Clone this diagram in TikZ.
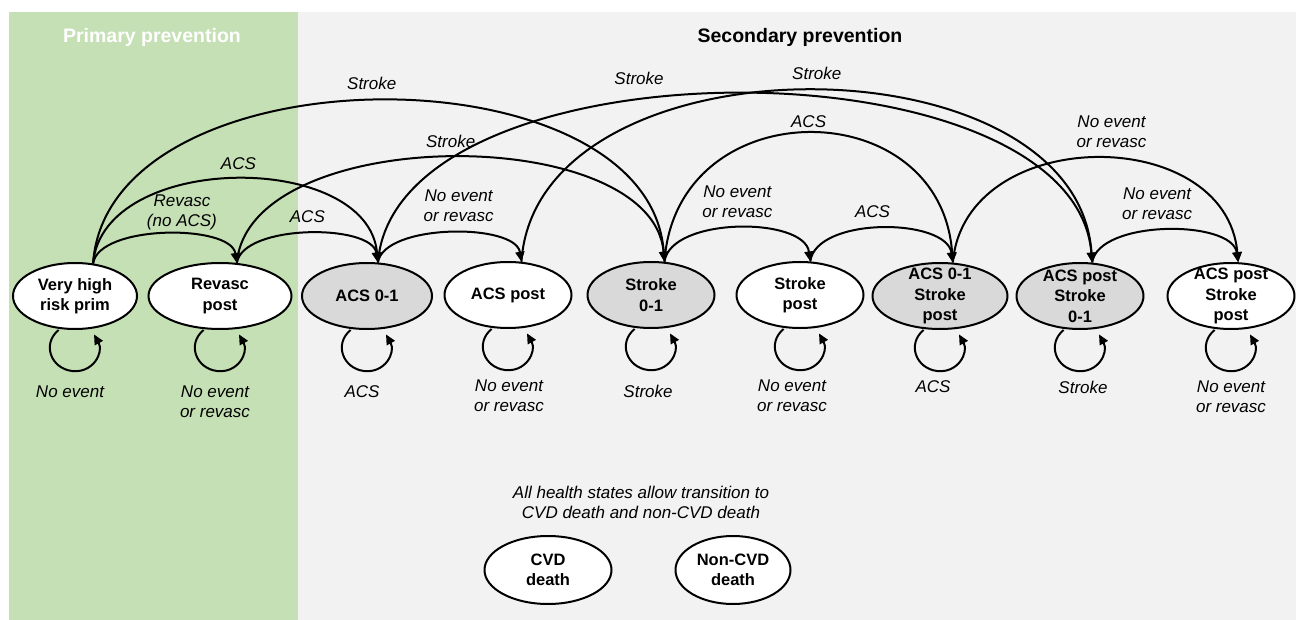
\documentclass[tikz,border=0pt]{standalone}
\usepackage{fontspec}
\setmainfont{Liberation Sans}
\usetikzlibrary{arrows.meta,shapes.geometric}
\definecolor{primgreen}{HTML}{C5E0B4}
\definecolor{secgray}{HTML}{F2F2F2}
\definecolor{nodegray}{HTML}{D9D9D9}
\newcommand\stateloop[4]{%
  \draw[trans] ([xshift=-16.4pt]#1.south)
    .. controls +(-17,14) and +(-21,-2.5) ..
    ([xshift=-3pt,yshift=-41pt]#1.south)
    node[lbl, below=#2, xshift=#3] {#4}
    .. controls +(21,2.5) and +(10,18) ..
    ([xshift=19pt,yshift=-4.4pt]#1.south);}
\begin{document}
\begin{tikzpicture}[x=1pt,y=-1pt,
  state/.style={ellipse, draw=black, line width=2pt, fill=white,
    minimum width=127pt, minimum height=66pt, inner xsep=0pt, inner ysep=-12pt,
    align=center, font=\fontsize{16.5}{20.5}\selectfont\bfseries},
  acute/.style={state, fill=nodegray},
  trans/.style={line width=2pt, -{Triangle[length=10pt,width=9pt]}},
  lbl/.style={font=\fontsize{17}{20}\selectfont\itshape, align=center, inner sep=1pt},
  titlestyle/.style={font=\fontsize{19.5}{23}\selectfont\bfseries}
]
\useasboundingbox (0,0) rectangle (1296,620);
\fill[primgreen] (9,12) rectangle (298,620);
\fill[secgray] (298,12) rectangle (1296,620);

\node[titlestyle, text=white] (tprim) at (152,37) {Primary prevention};
\node[titlestyle] (tsec) at (800,37) {Secondary prevention};

\node[state, minimum width=124pt] (n1) at (75,296) {Very high\\risk prim};
\node[state, minimum width=143pt] (n2) at (220,296) {Revasc\\post};
\node[acute, minimum width=130pt] (n3) at (367,296) {ACS 0-1};
\node[state] (n4) at (508,295) {ACS post};
\node[acute] (n5) at (651,295) {Stroke\\0-1};
\node[state] (n6) at (800,295) {Stroke\\post};
\node[acute, minimum width=135pt] (n7) at (940,296) {ACS 0-1\\Stroke\\post};
\node[acute] (n8) at (1080,296) {ACS post\\Stroke\\0-1};
\node[state] (n9) at (1231,296) {ACS post\\Stroke\\post};

\node[state, minimum height=68pt] (cvd) at (548,570) {CVD\\death};
\node[state, minimum height=68pt, minimum width=115pt] (ncvd) at (733,570) {Non-CVD\\death};
\node[lbl] (note) at (641,502) {All health states allow transition to\\CVD death and non-CVD death};

% transitions
\draw[trans] (n1.61) .. controls +(6,-39) and +(-6,-39) .. (n2.63)
  node[lbl, midway, above=2pt, xshift=17pt] {Revasc\\(no ACS)};
\draw[trans] (n1.61) .. controls +(10,-112) and +(-10,-112) .. (n3.72)
  node[lbl, midway, above=7pt, xshift=3pt] {ACS};
\draw[trans] (n1.61) .. controls +(15,-216) and +(-15,-216) .. (n5.68)
  node[lbl, midway, above=9pt, xshift=-7pt] {Stroke};
\draw[trans] (n2.63) .. controls +(6,-39) and +(-6,-39) .. (n3.72)
  node[lbl, midway, above=9pt] {ACS};
\draw[trans] (n2.63) .. controls +(12,-140) and +(-12,-140) .. (n5.68)
  node[lbl, midway, above=8pt] {Stroke};
\draw[trans] (n3.72) .. controls +(6,-39) and +(-6,-39) .. (n4.68)
  node[lbl, midway, above=9pt, xshift=9pt] {No event\\or revasc};
\draw[trans] (n3.72) .. controls +(18,-225) and +(-18,-225) .. (n8.70)
  node[lbl, midway, above=7pt, xshift=-96pt] {Stroke};
\draw[trans] (n4.68) .. controls +(15,-229) and +(-15,-229) .. (n8.70)
  node[lbl, midway, above=9pt, xshift=10pt] {Stroke};
\draw[trans] (n5.68) .. controls +(6,-45) and +(-6,-45) .. (n6.73)
  node[lbl, midway, above=8pt] {No event\\or revasc};
\draw[trans] (n5.68) .. controls +(12,-172) and +(-12,-172) .. (n7.69)
  node[lbl, midway, above=4pt] {ACS};
\draw[trans] (n6.73) .. controls +(6,-45) and +(-6,-45) .. (n7.69)
  node[lbl, midway, above=9pt, xshift=-9pt] {ACS};
\draw[trans] (n7.69) .. controls +(12,-139) and +(-12,-139) .. (n9.78)
  node[lbl, midway, above=8pt, xshift=16pt] {No event\\or revasc};
\draw[trans] (n8.70) .. controls +(6,-43) and +(-6,-43) .. (n9.78)
  node[lbl, midway, above=8pt, xshift=-8pt] {No event\\or revasc};

% self loops
\stateloop{n1}{13pt}{-2pt}{No event}
\stateloop{n2}{13pt}{-2pt}{No event\\or revasc}
\stateloop{n3}{13pt}{-2pt}{ACS}
\stateloop{n4}{8pt}{4pt}{No event\\or revasc}
\stateloop{n5}{13pt}{0pt}{Stroke}
\stateloop{n6}{8pt}{-5pt}{No event\\or revasc}
\stateloop{n7}{8pt}{-4pt}{ACS}
\stateloop{n8}{8pt}{6pt}{Stroke}
\stateloop{n9}{8pt}{3pt}{No event\\or revasc}
\end{tikzpicture}
\end{document}
